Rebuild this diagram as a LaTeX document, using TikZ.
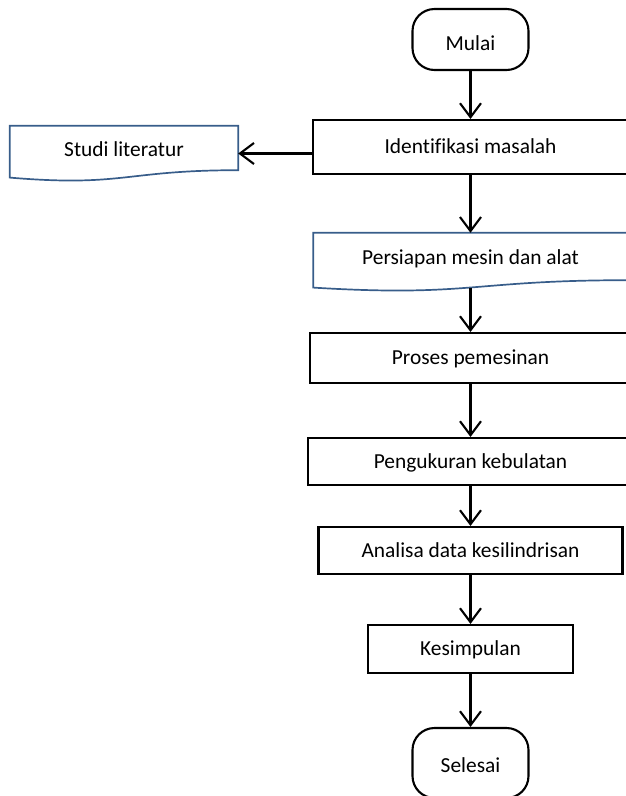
\documentclass[tikz,border=0pt]{standalone}
\usepackage{fontspec}
\setmainfont[Ligatures=NoCommon]{Carlito}
\usetikzlibrary{arrows.meta}
\definecolor{docblue}{RGB}{56,93,138}

\tikzset{
  box/.style = {draw, line width=2.1pt, inner sep=0pt, minimum height=50pt,
    text height=15pt, text depth=1.3pt},
  term/.style = {box, rounded corners=22pt, minimum width=116pt, minimum height=61pt,
    text height=21.7pt, text depth=0pt},
  docbox/.style = {inner sep=0pt, minimum height=56pt, text height=13.7pt, text depth=8pt},
  docline/.style = {draw=docblue, line width=1.7pt},
  flow/.style = {line width=2.1pt, -{Straight Barb[length=14pt, width=21pt, line width=2.1pt]}}
}

\begin{document}
\begin{tikzpicture}[x=1pt, y=-1pt, font=\fontsize{21.4}{25}\selectfont]
  \useasboundingbox (0,0) rectangle (626,796);

  \node (mulai) [term] at (470.5, 39.5) {Mulai};
  \node (ident) [box, minimum width=315pt, minimum height=54pt] at (470.5, 147) {Identifikasi masalah};
  \node (studi) [docbox, minimum width=228pt, minimum height=55pt] at (124, 153.5) {Studi literatur};
  \node (persiapan) [docbox, minimum width=314pt, minimum height=58pt] at (470.5, 262) {Persiapan mesin dan alat};
  \node (proses) [box, minimum width=321pt] at (470.5, 358) {Proses pemesinan};
  \node (ukur) [box, minimum width=325pt, minimum height=47pt] at (470.5, 461.5) {Pengukuran kebulatan};
  \node (analisa) [box, minimum width=304pt, minimum height=47pt] at (470.5, 550.5) {Analisa data kesilindrisan};
  \node (simpul) [box, minimum width=205pt, minimum height=48pt] at (470.5, 649) {Kesimpulan};
  \node (selesai) [term, minimum height=70pt, text height=19pt] at (470.5, 763) {Selesai};

  % document shapes with wavy bottom
  \foreach \n in {studi, persiapan}
    \draw [docline] (\n.north west) -- (\n.north east) -- ([yshift=11pt]\n.south east)
      .. controls ([yshift=11pt]\n.south) and ([yshift=-6pt]\n.south) .. ([yshift=3.6pt]\n.south west)
      -- cycle;

  \draw [flow] (mulai) -- (ident);
  \draw [flow] (ident.west |- studi) -- (studi);
  \draw [flow] (ident) -- (persiapan.north);
  \draw [flow] ([yshift=3.6pt]persiapan.south) -- (proses);
  \draw [flow] (proses) -- (ukur);
  \draw [flow] (ukur) -- (analisa);
  \draw [flow] (analisa) -- (simpul);
  \draw [flow] (simpul) -- (selesai);
\end{tikzpicture}
\end{document}
